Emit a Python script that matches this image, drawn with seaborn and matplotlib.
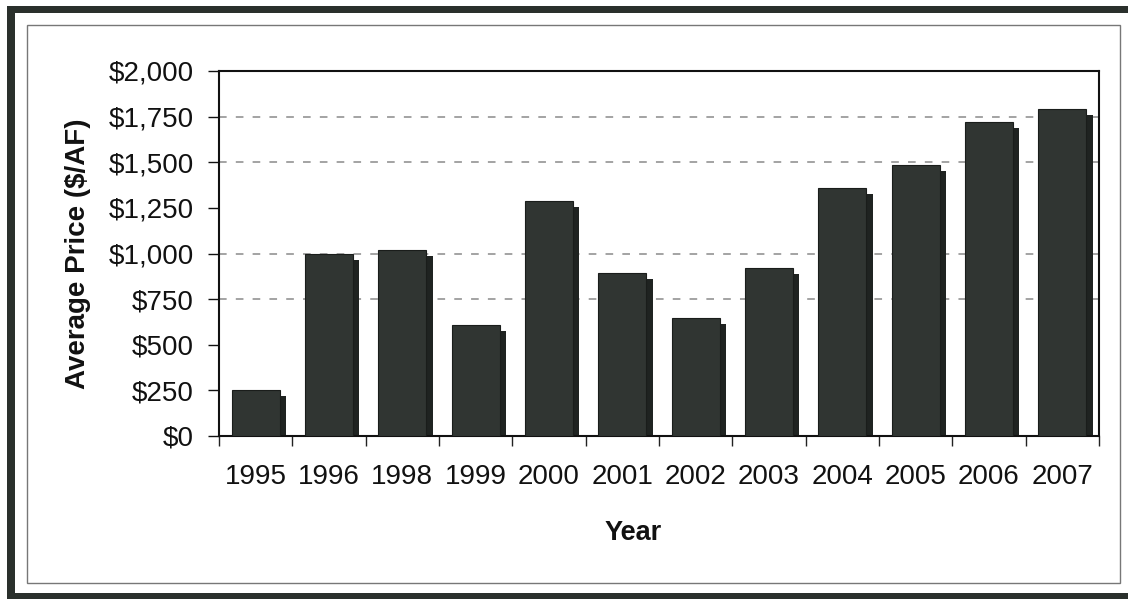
import matplotlib
matplotlib.use("Agg")
import matplotlib.pyplot as plt
from matplotlib.patches import Rectangle
from matplotlib.ticker import FuncFormatter, FixedLocator
import seaborn as sns
import pandas as pd
import numpy as np

years = ["1995", "1996", "1998", "1999", "2000", "2001", "2002", "2003",
         "2004", "2005", "2006", "2007"]
prices = [250, 1000, 1020, 610, 1290, 895, 645, 918, 1358, 1485, 1718, 1792]
y_ticks = [0, 250, 500, 750, 1000, 1250, 1500, 1750, 2000]
visible_grid = [750, 1000, 1500, 1750]

df = pd.DataFrame({"Year": years, "Price": prices})

sns.set_theme(style="white")
plt.rcParams["font.family"] = ["Liberation Sans", "DejaVu Sans"]

fig = plt.figure(figsize=(11.28, 5.99), dpi=100)
ax = fig.add_axes([219 / 1128, 1 - 436 / 599, 880 / 1128, 365 / 599])

bar_color = "#303532"
shadow_color = "#1f2321"
n = len(years)
x = np.arange(n)
# shadow (offset) bars drawn behind the main bars
ax.bar(x + 0.085, np.array(prices) - 33, width=0.655, color=shadow_color,
       edgecolor="none", zorder=2)
sns.barplot(data=df, x="Year", y="Price", ax=ax, color=bar_color,
            saturation=1, width=0.655, edgecolor="#1a1d1b", linewidth=0.8,
            zorder=3)

ax.set_ylim(0, 2000)
ax.set_xlim(-0.5, n - 0.5)
ax.yaxis.set_major_locator(FixedLocator(y_ticks))
ax.yaxis.set_major_formatter(FuncFormatter(lambda v, p: f"${v:,.0f}"))
for g in visible_grid:
    ax.axhline(g, color="#8a8a8a", linestyle=(0, (5, 6)), linewidth=1.1, zorder=1)

ax.xaxis.set_minor_locator(FixedLocator(np.arange(-0.5, n, 1.0)))
ax.tick_params(axis="x", which="major", length=0, pad=20, labelsize=20,
               colors="#111111")
ax.tick_params(axis="x", which="minor", bottom=True, length=7, width=1,
               color="#222222")
ax.tick_params(axis="y", which="major", left=True, length=8, width=1,
               pad=10, labelsize=20, colors="#111111")

for s in ax.spines.values():
    s.set_visible(True)
    s.set_color("#111111")
    s.set_linewidth(1.5)

ax.set_xlabel("Year", fontsize=19.5, fontweight="bold", color="#111111")
ax.xaxis.set_label_coords(0.471, -(520 - 436) / 365, transform=ax.transAxes)
ax.set_ylabel("Average Price ($/AF)", fontsize=20, fontweight="bold",
              color="#111111")
ax.yaxis.set_label_coords(-(219 - 91) / 880, 0.5, transform=ax.transAxes)

W, H = 1128, 599
def px_rect(x0, y0, x1, y1, **kw):
    fig.add_artist(Rectangle((x0 / W, 1 - y1 / H), (x1 - x0) / W, (y1 - y0) / H,
                             transform=fig.transFigure, **kw))

# outer thick dark border (top, left, bottom)
dark = "#2a302c"
px_rect(7, 6, W, 13, color=dark, lw=0)
px_rect(7, 6, 15, H, color=dark, lw=0)
px_rect(7, 593, W, H, color=dark, lw=0)
# inner thin frame
px_rect(27, 25, 1120, 583, fill=False, edgecolor="#777777", lw=1.0)

fig.savefig("out.png", dpi=100)
